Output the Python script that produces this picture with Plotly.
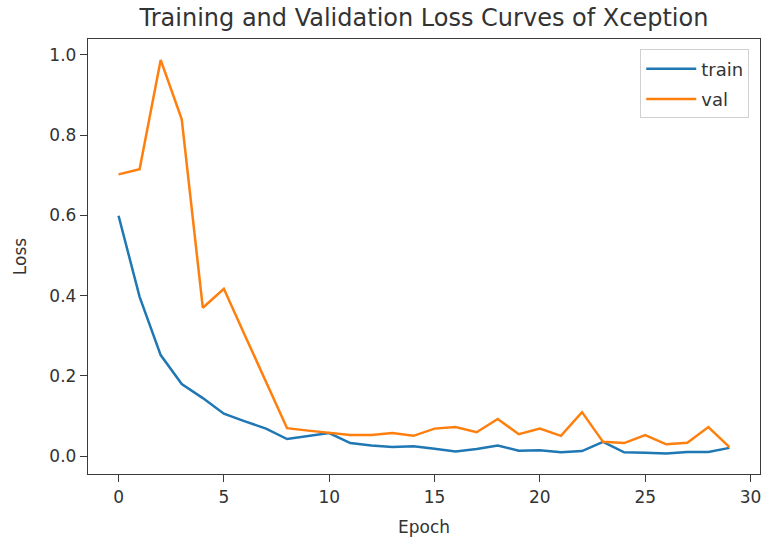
import plotly.graph_objects as go

epochs = list(range(30))
train_loss = [0.599, 0.397, 0.252, 0.180, 0.145, 0.106, 0.087, 0.069, 0.043, 0.050,
              0.058, 0.033, 0.027, 0.023, 0.025, 0.019, 0.012, 0.018, 0.027, 0.014,
              0.015, 0.010, 0.013, 0.036, 0.010, 0.009, 0.007, 0.011, 0.011, 0.021]
val_loss = [0.702, 0.715, 0.987, 0.839, 0.370, 0.417, 0.301, 0.186, 0.070, 0.064,
            0.058, 0.053, 0.053, 0.058, 0.051, 0.069, 0.073, 0.060, 0.093, 0.055,
            0.069, 0.051, 0.110, 0.036, 0.033, 0.053, 0.030, 0.034, 0.073, 0.023]
x_ticks = [0, 5, 10, 15, 20, 25, 30]
y_ticks = [0.0, 0.2, 0.4, 0.6, 0.8, 1.0]

FONT = "DejaVu Sans"
AX = "#3a3a3a"

fig = go.Figure()
fig.add_trace(go.Scatter(x=epochs, y=train_loss, mode="lines", name="train",
                         legendgroup="a",
                         line=dict(color="#1f77b4", width=2.5)))
fig.add_trace(go.Scatter(x=epochs, y=val_loss, mode="lines", name="val",
                         legendgroup="b",
                         line=dict(color="#ff7f0e", width=2.5)))

axis_common = dict(showgrid=False, zeroline=False, showline=True, mirror=True,
                   linecolor=AX, linewidth=1.4, ticks="outside", ticklen=7,
                   tickwidth=1.3, tickcolor=AX,
                   tickfont=dict(family=FONT, size=17, color="#333"))

fig.update_layout(
    width=764, height=542,
    paper_bgcolor="white", plot_bgcolor="white",
    margin=dict(l=88, r=4, t=39, b=68, autoexpand=False),
    title=dict(text="Training and Validation Loss Curves of Xception",
               font=dict(family=FONT, size=24, color="#333"),
               x=0.5, xref="paper", xanchor="center",
               y=1 - 18 / 542, yref="container", yanchor="middle"),
    xaxis=dict(range=[-1.45, 30.45], tickvals=x_ticks,
               title=dict(text="Epoch", font=dict(family=FONT, size=17, color="#333"), standoff=15),
               **axis_common),
    yaxis=dict(range=[-0.044, 1.039], tickvals=y_ticks, tickformat=".1f",
               title=dict(text="Loss", font=dict(family=FONT, size=17, color="#333"), standoff=18),
               **axis_common),
    legend=dict(x=0.984, y=0.976, xanchor="right", yanchor="top",
                bgcolor="rgba(255,255,255,0.8)", bordercolor="#d0d0d0", borderwidth=1,
                tracegroupgap=4, itemwidth=50,
                font=dict(family=FONT, size=18, color="#333")),
    showlegend=True,
)

fig.write_html("out.html", config={"displayModeBar": False},
               post_script="document.body.style.margin='0';document.body.style.overflow='hidden';")
